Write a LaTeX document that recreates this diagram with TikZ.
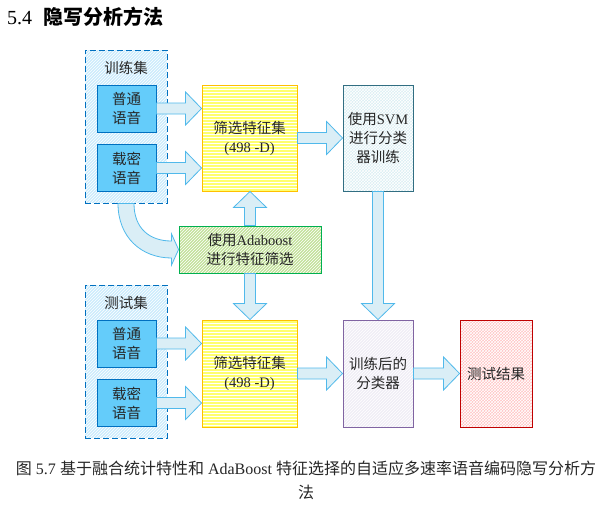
\documentclass[tikz,border=0pt]{standalone}
\usepackage{fontspec}
\setmainfont{Liberation Serif}
\newfontfamily\cjk{Noto Sans CJK SC}
\usetikzlibrary{calc,patterns}
\newcommand\latn[1]{{\rmfamily #1}}
\definecolor{setfill}{RGB}{204,236,252}
\definecolor{setdraw}{RGB}{0,112,192}
\definecolor{innerfill}{RGB}{100,204,250}
\definecolor{arrfill}{RGB}{218,238,246}
\definecolor{arrdraw}{RGB}{80,185,235}
\definecolor{yelfill}{RGB}{255,255,110}
\definecolor{yeldraw}{RGB}{255,192,0}
\definecolor{svmfill}{RGB}{218,238,243}
\definecolor{svmdraw}{RGB}{49,110,130}
\definecolor{grnfill}{RGB}{195,225,155}
\definecolor{grndraw}{RGB}{0,176,80}
\definecolor{clsfill}{RGB}{240,238,246}
\definecolor{clsdraw}{RGB}{128,100,162}
\definecolor{resfill}{RGB}{255,196,196}
\definecolor{resdraw}{RGB}{192,0,0}
\tikzset{
  boxtxt/.style={font=\cjk\fontsize{14.5}{19}\selectfont, align=center, inner sep=0pt, text=black!85},
  setbox/.style={draw=setdraw, line width=0.9pt, dash pattern=on 6pt off 3pt,
    preaction={fill=setfill}, pattern=north east lines, pattern color=white,
    minimum width=82pt, minimum height=153pt, inner sep=0pt},
  innerbox/.style={boxtxt, draw=setdraw, line width=0.9pt, fill=innerfill,
    minimum width=59pt, minimum height=47pt},
  yelbox/.style={boxtxt, draw=yeldraw, line width=0.9pt, preaction={fill=yelfill},
    pattern=horizontal lines, pattern color=white, minimum width=95pt, minimum height=106pt},
  svmbox/.style={boxtxt, draw=svmdraw, line width=0.9pt, preaction={fill=svmfill},
    pattern=crosshatch, pattern color=white, minimum width=70pt, minimum height=106pt},
  grnbox/.style={boxtxt, draw=grndraw, line width=0.9pt, preaction={fill=grnfill},
    pattern=north east lines, pattern color=white, minimum width=142pt, minimum height=47pt},
  clsbox/.style={boxtxt, draw=clsdraw, line width=0.9pt, preaction={fill=clsfill},
    pattern=north east lines, pattern color=white, minimum width=70pt, minimum height=107pt},
  resbox/.style={boxtxt, draw=resdraw, line width=0.9pt, preaction={fill=resfill},
    pattern=crosshatch, pattern color=white, minimum width=72pt, minimum height=107pt},
  barrow/.style={draw=arrdraw, fill=arrfill, line width=0.8pt, line join=miter},
}
\newcommand\blockarr[2]{%
  \coordinate (ba-s) at (#1);
  \coordinate (ba-e) at (#2);
  \coordinate (ba-h) at ($(ba-e)!16pt!(ba-s)$);
  \draw[barrow] ($(ba-s)!5.5pt!90:(ba-e)$) -- ($(ba-h)!5.5pt!90:(ba-e)$)
    -- ($(ba-h)!16.5pt!90:(ba-e)$) -- (ba-e) -- ($(ba-h)!16.5pt!-90:(ba-e)$)
    -- ($(ba-h)!5.5pt!-90:(ba-e)$) -- ($(ba-s)!5.5pt!-90:(ba-e)$) -- cycle;
}
\begin{document}
\begin{tikzpicture}[x=1pt,y=-1pt]
\useasboundingbox (0,0) rectangle (609,504);
% title
\node[anchor=west, inner sep=0pt, font=\fontsize{20}{24}\selectfont] (title) at (7,17)
  {5.4\hspace{11pt}{\cjk\bfseries 隐写分析方法}};
% training
\node[setbox] (trainset) at (126,126.5) {};
\node[boxtxt] (trainlbl) at (126,68) {训练集};
\node[innerbox] (tn1) at (126.5,108.5) {普通\\语音};
\node[innerbox] (tn2) at (126.5,168) {载密\\语音};
% testing
\node[setbox] (testset) at (126,361.5) {};
\node[boxtxt] (testlbl) at (126,303) {测试集};
\node[innerbox] (sn1) at (126.5,343.5) {普通\\语音};
\node[innerbox] (sn2) at (126.5,403) {载密\\语音};
% feature boxes
\node[yelbox] (fs1) at (249.5,138) {筛选特征集\\\latn{(498 -D)}};
\node[yelbox, minimum height=107pt] (fs2) at (249.5,373.5) {筛选特征集\\\latn{(498 -D)}};
\node[svmbox] (svm) at (378,138) {使用\latn{SVM}\\进行分类\\器训练};
\node[grnbox] (ada) at (250,249.5) {使用\latn{Adaboost}\\进行特征筛选};
\node[clsbox] (cls) at (378,373.5) {训练后的\\分类器};
\node[resbox] (res) at (496,373.5) {测试结果};
% arrows
\blockarr{tn1.east}{fs1.west |- tn1.east}
\blockarr{tn2.east}{fs1.west |- tn2.east}
\blockarr{sn1.east}{fs2.west |- sn1.east}
\blockarr{sn2.east}{fs2.west |- sn2.east}
\blockarr{fs1.east}{svm.west}
\blockarr{fs2.east}{cls.west}
\blockarr{cls.east}{res.west}
\blockarr{svm.south}{cls.north}
\blockarr{ada.north}{ada.north |- fs1.south}
\blockarr{ada.south}{ada.south |- fs2.north}
% curved arrow
\draw[barrow] ($(trainset.south)+(-8,0)$) .. controls +(0,34) and +(-30,0) .. ($(ada.west)+(-7,8.5)$)
  -- ($(ada.west)+(-7,15.5)$) -- (ada.west) -- ($(ada.west)+(-7,-15.5)$)
  -- ($(ada.west)+(-7,-8.5)$) .. controls +(-22,0) and +(0,25) .. ($(trainset.south)+(8,0)$) -- cycle;
% caption
\node[font=\fontsize{16}{24}\selectfont, align=center, inner sep=0pt, text=black!85] (caption) at (306,480)
  {{\cjk 图} 5.7 {\cjk 基于融合统计特性和} AdaBoost {\cjk 特征选择的自适应多速率语音编码隐写分析方}\\{\cjk 法}};
\end{tikzpicture}
\end{document}
